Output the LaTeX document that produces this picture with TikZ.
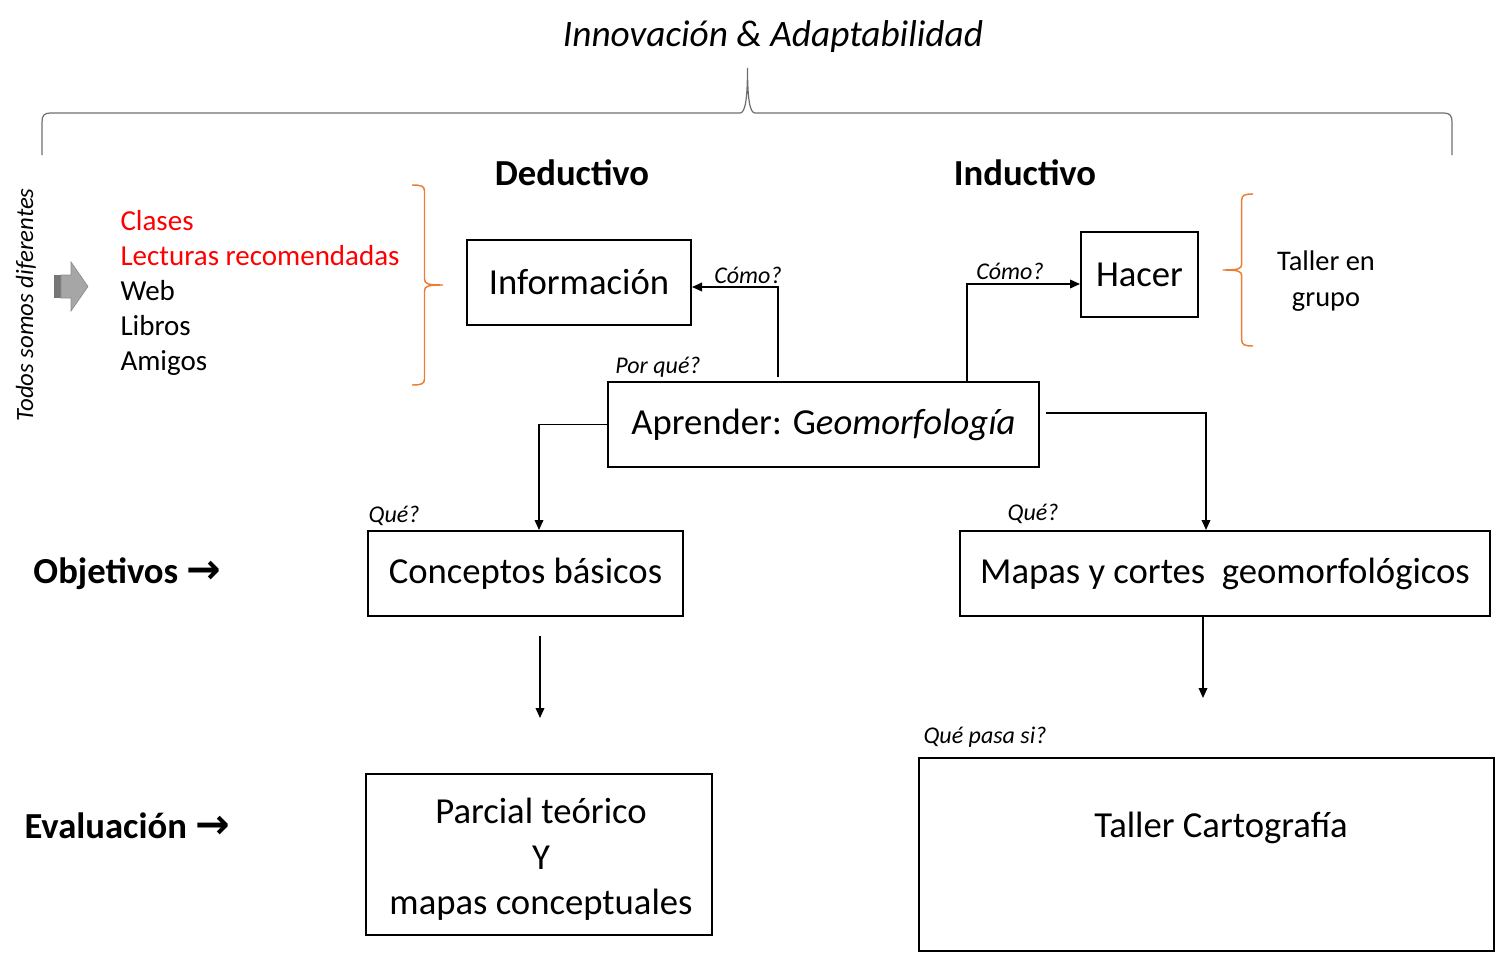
\documentclass[tikz,border=0pt]{standalone}
\usepackage{fontspec}
\setmainfont{Carlito}
\newfontfamily\arrowfont{DejaVu Sans}
\usetikzlibrary{arrows.meta,calc}

\definecolor{braceorange}{RGB}{237,125,49}
\definecolor{bracegray}{RGB}{110,110,110}
\definecolor{rojo}{RGB}{255,0,0}
\definecolor{arrowdark}{RGB}{118,118,118}
\definecolor{arrowlight}{RGB}{166,166,166}

\tikzset{every picture/.style={line width=0.75pt}}
\tikzset{
  box/.style={draw, line width=1.5pt, inner sep=0pt, font=\fontsize{27.5}{34}\selectfont},
  conn/.style={line width=1.1pt, -{Triangle[length=7.5pt,width=6.5pt]}},
  ask/.style={inner sep=0pt, font=\fontsize{18}{21}\selectfont\itshape},
  head/.style={inner sep=0pt, font=\fontsize{27.5}{33}\selectfont\bfseries},
  curly/.style={draw=braceorange, line width=1.1pt},
}

\begin{document}
\begin{tikzpicture}[x=0.75pt,y=0.75pt,yscale=-1,xscale=1]
\useasboundingbox (0,0) rectangle (1501,953);

%Title and top brace
\node (titulo) [inner sep=0pt, font=\fontsize{28}{33}\selectfont\itshape] at (773,37) {Innovación \& Adaptabilidad};
\draw [bracegray, line width=0.9pt] (42,155) -- (42,122) .. controls (42,116) and (44,113) .. (50,113) -- (740,113) .. controls (745,113) and (747.5,100) .. (747.5,68) .. controls (747.5,100) and (750,113) .. (755,113) -- (1444,113) .. controls (1450,113) and (1452,116) .. (1452,122) -- (1452,155);

% Text Node
\node (deduc) [head] at (572,173) {Deductivo};
% Text Node
\node (induc) [head] at (1025,173) {Inductivo};
% Text Node
\node (todos) [inner sep=0pt, rotate=90, font=\fontsize{18.6}{21}\selectfont\itshape] at (26,305) {Todos somos diferentes};

%Shape: Right Arrow
\fill [arrowdark] (54,275) rectangle (61,298);
\draw [arrowlight!85!black, line width=0.5pt, fill=arrowlight] (61,275) -- (71,275) -- (71,262) -- (88,286.5) -- (71,311) -- (71,298) -- (61,298) -- cycle;

% Text Node
\node (fuentes) [anchor=west, inner sep=0pt, align=left, font=\fontsize{21.75}{26.25}\selectfont] at (120,293) {\textcolor{rojo}{Clases}\\ \textcolor{rojo}{Lecturas recomendadas}\\ Web\\ Libros\\ Amigos};

%Shape: Braces
\draw [curly] (412,185) .. controls (421,185) and (424.5,186) .. (424.5,191) -- (424.5,279) .. controls (424.5,284) and (428,285) .. (443,285) .. controls (428,285) and (424.5,286) .. (424.5,291) -- (424.5,379) .. controls (424.5,384) and (421,385) .. (412,385);
\draw [curly] (1253,194) .. controls (1245,194) and (1241.7,195) .. (1241.7,200) -- (1241.7,264) .. controls (1241.7,269) and (1238,270) .. (1222.7,270) .. controls (1238,270) and (1241.7,271) .. (1241.7,276) -- (1241.7,340) .. controls (1241.7,345) and (1245,346) .. (1253,346);

% Text Node
\node (grupo) [inner sep=0pt, align=center, font=\fontsize{21.3}{27}\selectfont] at (1326,281) {Taller en\\ grupo};

%Boxes
\node (info) [box, minimum width=168pt, minimum height=63.75pt] at (579,282.5) {Información};
\node (hacer) [box, minimum width=87.75pt, minimum height=63.75pt] at (1139.5,274.5) {Hacer};
\node (apr) [box, minimum width=323.25pt, minimum height=63.75pt] at (823.5,424.5) {Aprender: G\textit{eomorfología}};
\node (conc) [box, minimum width=236.25pt, minimum height=63.75pt] at (525.5,573.5) {Conceptos básicos};
\node (mapas) [box, minimum width=397.5pt, minimum height=63.75pt] at (1225,573.5) {Mapas y cortes \ geomorfológicos};
\node (parcialbox) [box, minimum width=259.5pt, minimum height=120.75pt] at (539,854.5) {};
\node (parcial) [inner sep=0pt, align=center, font=\fontsize{27.5}{34}\selectfont] at ($(parcialbox.center)+(2,5)$) {Parcial teórico\\ Y\\ mapas conceptuales};
\node (tallerbox) [box, minimum width=431.25pt, minimum height=144.75pt] at (1206.5,854.5) {};
\node (taller) [inner sep=0pt, font=\fontsize{27.5}{33}\selectfont] at ($(tallerbox.center)+(14.5,-27)$) {Taller Cartografía};

% Text Node
\node (objetivos) [head, anchor=west] at (33,574) {Objetivos {\arrowfont\bfseries\fontsize{31}{33}\selectfont →}};
\node (evaluacion) [head, anchor=west] at (24,826) {Evaluación {\arrowfont\bfseries\fontsize{31}{33}\selectfont →}};

%Connectors
\draw [conn] ($(apr.north)+(-45.5,-4)$) |- ($(info.east)+(0,4.5)$);
\draw [conn] ($(apr.north)+(143.5,0)$) |- ($(hacer.west)+(0,9.5)$);
\draw [conn] (apr.west) -| ($(conc.north)+(13.5,0)$);
\draw [conn] ($(apr.east)+(6,-11.5)$) -| ($(mapas.north)+(-19,0)$);
\coordinate (concfin) at ($(conc.south)+(14.5,19)$);
\draw [conn] (concfin) -- ++(0,82);
\coordinate (mapasfin) at ($(mapas.south)+(-22,0)$);
\draw [conn] (mapasfin) -- ++(0,81);

% Question labels
\node (como1) [ask] at (748,275) {Cómo?};
\node (como2) [ask] at (1010,271) {Cómo?};
\node (porque) [ask] at (658,367) {Por qué?};
\node (que1) [ask] at (394,516) {Qué?};
\node (que2) [ask] at (1033,514) {Qué?};
\node (quepasa) [ask] at (985,737) {Qué pasa si?};

\end{tikzpicture}
\end{document}
